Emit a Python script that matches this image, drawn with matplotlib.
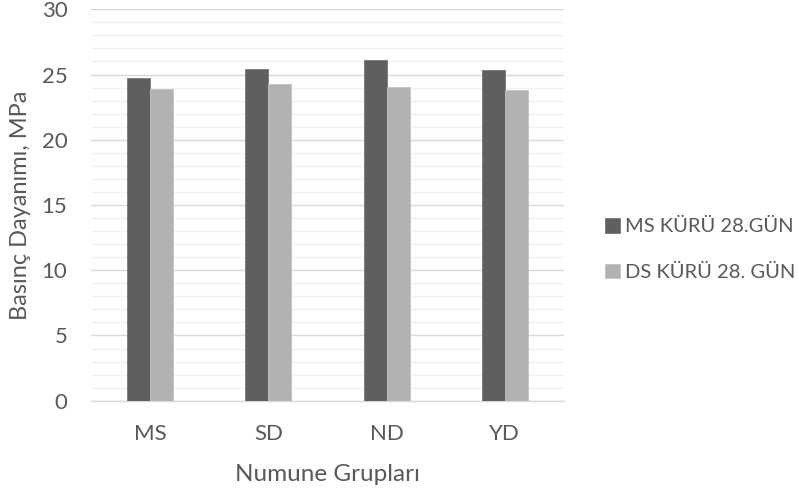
import matplotlib
matplotlib.use("Agg")
import matplotlib.pyplot as plt
import numpy as np
from matplotlib.ticker import MultipleLocator

groups = ["MS", "SD", "ND", "YD"]
ms_28 = [24.75, 25.45, 26.1, 25.35]
ds_28 = [23.9, 24.3, 24.05, 23.85]
series_names = ["MS KÜRÜ 28.GÜN", "DS KÜRÜ 28. GÜN"]

plt.rcParams["font.family"] = ["Lato", "DejaVu Sans"]
text_color = "#595959"

fig = plt.figure(figsize=(7.99, 4.9), dpi=100)
ax = fig.add_axes([91 / 799, 1 - 400.7 / 490, 473 / 799, 391.4 / 490])

x = np.arange(len(groups))
w = 0.195
ax.bar(x - w / 2, ms_28, w, color="#5f5f5f", edgecolor="#767676", linewidth=0.6,
       label=series_names[0], zorder=3)
ax.bar(x + w / 2, ds_28, w, color="#b2b2b2", edgecolor="#c2c2c2", linewidth=0.6,
       label=series_names[1], zorder=3)

ax.set_xlim(-0.5, 3.5)
ax.set_ylim(0, 30)
ax.yaxis.set_major_locator(MultipleLocator(5))
ax.yaxis.set_minor_locator(MultipleLocator(1))
ax.grid(True, which="major", axis="y", color="#d9d9d9", linewidth=1.0, zorder=0)
ax.grid(True, which="minor", axis="y", color="#f0f0f0", linewidth=1.0, zorder=0)
ax.set_xticks(x)
ax.set_xticklabels(groups)
ax.tick_params(axis="both", which="both", length=0, labelsize=16, colors=text_color)
ax.tick_params(axis="y", pad=17)
ax.tick_params(axis="x", pad=16.5)
for s in ["top", "right", "left"]:
    ax.spines[s].set_visible(False)
ax.spines["bottom"].set_color("#d9d9d9")
ax.spines["bottom"].set_linewidth(1.0)

ax.set_ylabel("Basınç Dayanımı, MPa", fontsize=17, color=text_color, labelpad=8)
ax.set_xlabel("Numune Grupları", fontsize=17.5, color=text_color, labelpad=15)

fig.legend(loc="center left", bbox_to_anchor=(605 / 799, 1 - 249.5 / 490), frameon=False,
           fontsize=14.5, labelcolor=text_color, handlelength=0.75, handleheight=0.75,
           handletextpad=0.25, labelspacing=1.4, borderpad=0, borderaxespad=0)

fig.savefig("out.png", dpi=100)
